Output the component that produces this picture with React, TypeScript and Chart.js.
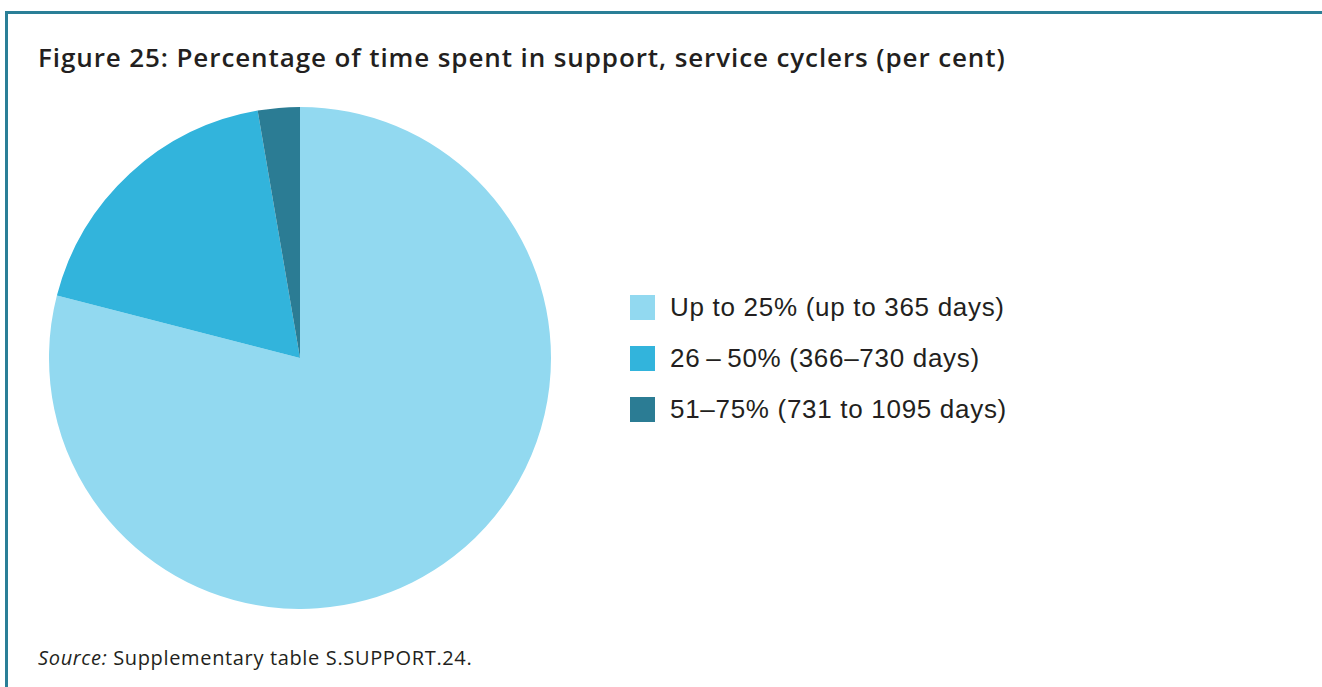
import React, { useEffect, useRef } from "react";
import { Chart, registerables } from "chart.js";

Chart.register(...registerables);

// Share of time spent in support, service cyclers (per cent)
const categories = [
  "Up to 25% (up to 365 days)",
  "26\u2009\u2013\u200950% (366\u2013730 days)",
  "51\u201375% (731 to 1095 days)",
];
const shares = [79.0, 18.3, 2.7];
const sliceColors = ["#92d9f0", "#32b4dc", "#2b7c94"];

const titleText =
  "Figure 25: Percentage of time spent in support, service cyclers (per cent)";
const sourceLabel = "Source:";
const sourceText = " Supplementary table S.SUPPORT.24.";

export default function App() {
  const canvasRef = useRef<HTMLCanvasElement | null>(null);

  useEffect(() => {
    document.body.style.margin = "0";
    const canvas = canvasRef.current;
    if (!canvas) return;
    const chart = new Chart(canvas, {
      type: "pie",
      data: {
        labels: categories,
        datasets: [
          {
            data: shares,
            backgroundColor: sliceColors,
            borderWidth: 0,
          },
        ],
      },
      options: {
        animation: false,
        responsive: false,
        maintainAspectRatio: false,
        layout: { padding: 0 },
        plugins: {
          legend: { display: false },
          tooltip: { enabled: false },
          title: { display: false },
        },
      },
    });
    return () => chart.destroy();
  }, []);

  return (
    <div
      style={{
        position: "relative",
        width: 1322,
        height: 687,
        background: "#ffffff",
        overflow: "hidden",
      }}
    >
      {/* teal frame */}
      <div
        style={{
          position: "absolute",
          left: 5,
          top: 11,
          width: 1322 - 5 - 3 - 1 + 2,
          height: 700,
          borderTop: "3px solid #2a7f97",
          borderLeft: "3px solid #2a7f97",
          borderRight: "1px solid #8fbcc9",
        }}
      />
      <div
        style={{
          position: "absolute",
          left: 38,
          top: 39,
          fontFamily: "'Open Sans', sans-serif",
          fontWeight: 600,
          fontSize: 26,
          letterSpacing: "0.9px",
          lineHeight: "36px",
          color: "#231f20",
          whiteSpace: "nowrap",
        }}
      >
        {titleText}
      </div>
      <canvas
        ref={canvasRef}
        width={502}
        height={502}
        style={{ position: "absolute", left: 49, top: 107, width: 502, height: 502 }}
      />
      {/* legend */}
      <div style={{ position: "absolute", left: 630, top: 295 }}>
        {categories.map((c, i) => (
          <div
            key={c}
            style={{
              display: "flex",
              alignItems: "center",
              height: 25,
              marginBottom: 26,
            }}
          >
            <div
              style={{
                width: 25,
                height: 25,
                background: sliceColors[i],
                flex: "none",
              }}
            />
            <span
              style={{
                marginLeft: 15,
                fontFamily: "'Liberation Sans', Arial, sans-serif",
                fontSize: 26,
                letterSpacing: "0.7px",
                color: "#231f20",
                whiteSpace: "nowrap",
              }}
            >
              {c}
            </span>
          </div>
        ))}
      </div>
      <div
        style={{
          position: "absolute",
          left: 38,
          top: 644,
          fontFamily: "'Open Sans', sans-serif",
          fontSize: 20,
          letterSpacing: "0.65px",
          lineHeight: "28px",
          color: "#231f20",
          whiteSpace: "nowrap",
        }}
      >
        <i>{sourceLabel}</i>
        {sourceText}
      </div>
    </div>
  );
}
